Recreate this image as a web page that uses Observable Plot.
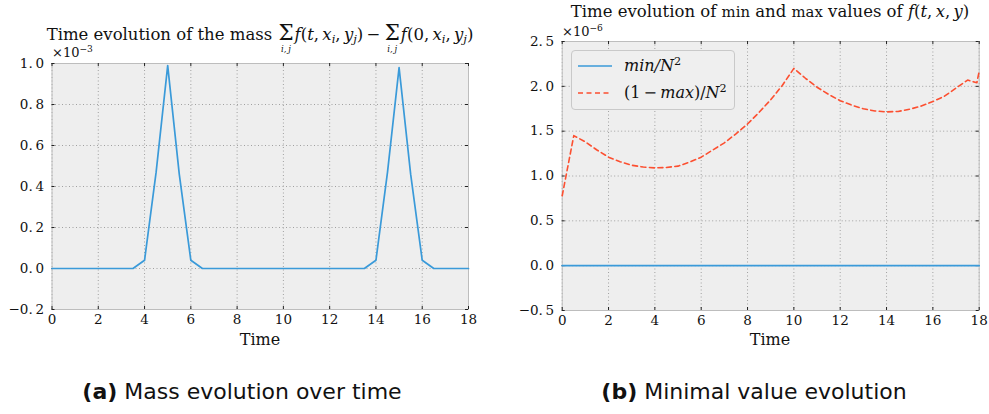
<!DOCTYPE html>
<html><head><meta charset="utf-8">
<script src="https://cdn.jsdelivr.net/npm/d3@7"></script>
<script src="https://cdn.jsdelivr.net/npm/@observablehq/plot@0.6"></script>
<style>
body{margin:0;background:#fff}
#root{position:relative;width:989px;height:414px;overflow:hidden;font-family:"DejaVu Serif",serif;color:#111}
.abs{position:absolute;white-space:nowrap}
.panel{position:absolute;top:0}
.title{line-height:18px;text-align:center}
.sum{position:relative;display:inline-block;font-size:1.3em;line-height:1;font-style:normal;margin:0 1px}
.lim{position:absolute;left:50%;transform:translateX(-50%);top:23px;font-size:8.5px;font-style:italic;white-space:nowrap;line-height:1}
sub{font-size:0.7em;vertical-align:-0.3em;line-height:0}
sup{font-size:0.7em;vertical-align:0.5em;line-height:0}
.rm{font-size:0.9em}
.xlab{font-size:16px;line-height:20px;text-align:center}
.expo{font-size:13px;line-height:14px}
.cap{font-family:"DejaVu Sans",sans-serif;font-size:22px;line-height:28px;text-align:center;color:#111}
.legend{position:absolute;left:571px;top:50px;width:162px;height:58px;border:1px solid #c9c9c9;border-radius:4px;background:#efefef}
.lrow{position:absolute;left:5px;height:20px;font-size:16px;font-style:italic;line-height:20px}
.lrow svg{position:absolute;left:0;top:4px}
.lrow span{position:absolute;left:47px;top:0;white-space:nowrap}
</style></head>
<body><div id="root"></div>
<script>
// ---- data ----
const massTime = [0,0.5,1,1.5,2,2.5,3,3.5,4,4.5,5,5.5,6,6.5,7,7.5,8,8.5,9,9.5,10,10.5,11,11.5,12,12.5,13,13.5,14,14.5,15,15.5,16,16.5,17,17.5,18];
const massValues = [0,0,0,0,0,0,0,0,0.04,0.47,0.99,0.46,0.04,0,0,0,0,0,0,0,0,0,0,0,0,0,0,0,0.04,0.47,0.98,0.46,0.04,0,0,0,0]; // x 1e-3
const extTime = [0,0.5,1,1.5,2,2.5,3,3.5,4,4.5,5,5.5,6,6.5,7,7.5,8,8.5,9,9.5,10,10.5,11,11.5,12,12.5,13,13.5,14,14.5,15,15.5,16,16.5,17,17.5,17.9,18];
const minValues = [0,0,0,0,0,0,0,0,0,0,0,0,0,0,0,0,0,0,0,0,0,0,0,0,0,0,0,0,0,0,0,0,0,0,0,0,0,0]; // x 1e-6
const maxValues = [0.78,1.45,1.38,1.29,1.21,1.16,1.12,1.10,1.09,1.095,1.11,1.155,1.21,1.29,1.37,1.47,1.58,1.71,1.85,2.01,2.20,2.09,1.99,1.91,1.84,1.79,1.75,1.725,1.715,1.72,1.745,1.78,1.83,1.89,1.98,2.07,2.04,2.17]; // x 1e-6
const timeTicks = [0,2,4,6,8,10,12,14,16,18];
const massTicks = [-0.2,0,0.2,0.4,0.6,0.8,1.0];
const extTicks = [-0.5,0,0.5,1.0,1.5,2.0,2.5];

const BLUE = "#3a9ad9", RED = "#fc4f30";
const massData = massTime.map((t,i)=>({t, v: massValues[i]}));
const minData = extTime.map((t,i)=>({t, v: minValues[i]}));
const maxData = extTime.map((t,i)=>({t, v: maxValues[i]}));
const yfmt = d => d3.format(".1f")(d).replace(".", ".\u2009");

function panel({data, yDomain, yTicks, width, mL, mR, mT, mB, height}) {
  const W = width - mL - mR, H = height - mT - mB;
  const tk = {stroke:"#222", strokeWidth:1};
  return Plot.plot({
    width, height, marginLeft:mL, marginRight:mR, marginTop:mT, marginBottom:mB,
    x:{domain:[0,18], label:null},
    y:{domain:yDomain, label:null},
    style:{background:"transparent", fontFamily:"DejaVu Serif, serif", fontSize:"13px", color:"#111", overflow:"visible"},
    marks:[
      Plot.frame({fill:"#eeeeee"}),
      Plot.gridX(timeTicks, {stroke:"#a0a0a0", strokeOpacity:1, strokeDasharray:"1,2.5"}),
      Plot.gridY(yTicks, {stroke:"#a0a0a0", strokeOpacity:1, strokeDasharray:"1,2.5"}),
      Plot.frame({stroke:"#bdbdbd"}),
      Plot.tickX(timeTicks, {x:d=>d, ...tk, insetTop:H-3}),
      Plot.tickX(timeTicks, {x:d=>d, ...tk, insetBottom:H-3}),
      Plot.tickY(yTicks, {y:d=>d, ...tk, insetRight:W-3}),
      Plot.tickY(yTicks, {y:d=>d, ...tk, insetLeft:W-3}),
      Plot.axisX(timeTicks, {tickSize:0, tickPadding:5, tickFormat:d=>String(d), label:null, fontSize:13.5}),
      Plot.axisY(yTicks, {tickSize:0, tickPadding:8, tickFormat:yfmt, label:null, fontSize:13.5}),
      ...data
    ]
  });
}

const root = document.getElementById("root");
const p1 = panel({
  data:[Plot.line(massData, {x:"t", y:"v", stroke:BLUE, strokeWidth:1.7})],
  yDomain:[-0.2,1.0], yTicks:massTicks, width:494, height:350, mL:51.5, mR:26, mT:63, mB:41
});
p1.classList.add("panel"); p1.style.left = "0px";
root.appendChild(p1);

const p2 = panel({
  data:[
    Plot.line(minData, {x:"t", y:"v", stroke:BLUE, strokeWidth:1.7}),
    Plot.line(maxData, {x:"t", y:"v", stroke:RED, strokeWidth:1.6, strokeDasharray:"5,3.5"})
  ],
  yDomain:[-0.5,2.5], yTicks:extTicks, width:495, height:350, mL:67.7, mR:10.3, mT:41, mB:40
});
p2.classList.add("panel"); p2.style.left = "494px";
root.appendChild(p2);

const html = `
<div class="abs title" style="left:0;width:520px;top:22px;font-size:16.5px">Time evolution of the mass <span class="sum">Σ<span class="lim">i,&thinsp;j</span></span><i>f</i>(<i>t</i>,&thinsp;<i>x<sub>i</sub></i>,&thinsp;<i>y<sub>j</sub></i>)&thinsp;−&thinsp;<span class="sum">Σ<span class="lim">i,&thinsp;j</span></span><i>f</i>(0,&thinsp;<i>x<sub>i</sub></i>,&thinsp;<i>y<sub>j</sub></i>)</div>
<div class="abs title" style="left:520px;width:500px;top:3px;font-size:16.5px">Time evolution of <span class="rm">min</span> and <span class="rm">max</span> values of <i>f</i>(<i>t</i>,&thinsp;<i>x</i>,&thinsp;<i>y</i>)</div>
<div class="abs expo" style="left:52px;top:46px">×10<sup>−3</sup></div>
<div class="abs expo" style="left:562px;top:25px">×10<sup>−6</sup></div>
<div class="abs xlab" style="left:160px;width:200px;top:330px">Time</div>
<div class="abs xlab" style="left:670px;width:200px;top:330px">Time</div>
<div class="legend">
  <div class="lrow" style="top:5px"><svg width="36" height="12"><line x1="1" x2="35" y1="6" y2="6" stroke="${BLUE}" stroke-width="1.7"/></svg><span>min/N<sup style="font-style:normal">2</sup></span></div>
  <div class="lrow" style="top:32px"><svg width="36" height="12"><line x1="1" x2="35" y1="6" y2="6" stroke="${RED}" stroke-width="1.6" stroke-dasharray="5,3.5"/></svg><span><span style="position:static;font-style:normal">(1&thinsp;−&thinsp;</span>max<span style="position:static;font-style:normal">)/</span>N<sup style="font-style:normal">2</sup></span></div>
</div>
<div class="abs cap" style="left:42px;width:400px;top:378px"><b>(a)</b> Mass evolution over time</div>
<div class="abs cap" style="left:554px;width:400px;top:378px"><b>(b)</b> Minimal value evolution</div>
`;
root.insertAdjacentHTML("beforeend", html);
</script>
</body></html>
